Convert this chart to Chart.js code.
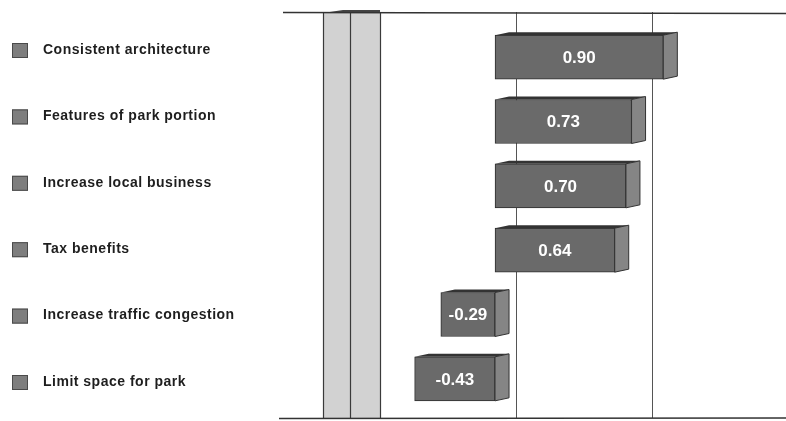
<!DOCTYPE html>
<html>
<head>
<meta charset="utf-8">
<script src="https://cdn.jsdelivr.net/npm/chart.js@4"></script>
<style>
  html, body { margin: 0; padding: 0; background: #ffffff; }
  #wrap { width: 786px; height: 421px; }
</style>
</head>
<body>
<div id="wrap"><canvas id="chart" width="786" height="421"></canvas></div>
<script>
const categories = ["Consistent architecture", "Features of park portion", "Increase local business",
                    "Tax benefits", "Increase traffic congestion", "Limit space for park"];
const values = [0.90, 0.73, 0.70, 0.64, -0.29, -0.43];
const valueLabels = ["0.90", "0.73", "0.70", "0.64", "-0.29", "-0.43"];
const gridTicks = [0.11, 0.84];

// 3d depth of the bars
const depthX = 14;
const depthY = 3;

const backdrop = {
    id: "backdrop",
    beforeDatasetsDraw(chart) {
        const c = chart.ctx;
        const area = chart.chartArea;
        const x = chart.scales.x;
        const top = 12, bottom = 418;
        c.save();
        // gray axis wall
        c.fillStyle = "#d2d2d2";
        c.fillRect(323, top, 57, bottom - top);
        c.strokeStyle = "#3a3a3a";
        c.lineWidth = 1.2;
        [323, 350, 380].forEach(px => {
            c.beginPath();
            c.moveTo(px + 0.5, top);
            c.lineTo(px + 0.5, bottom);
            c.stroke();
        });
        c.fillStyle = "#444";
        c.beginPath();
        c.moveTo(323, top + 1);
        c.lineTo(343, top - 2);
        c.lineTo(380, top - 2);
        c.lineTo(380, top + 1);
        c.closePath();
        c.fill();
        // gridlines
        c.strokeStyle = "#555";
        c.lineWidth = 1;
        gridTicks.forEach(v => {
            const px = Math.round(x.getPixelForValue(v)) + 0.5;
            c.beginPath();
            c.moveTo(px, top);
            c.lineTo(px, bottom);
            c.stroke();
        });
        // frame lines
        c.strokeStyle = "#333";
        c.lineWidth = 1.3;
        c.beginPath();
        c.moveTo(area.left, top + 0.5);
        c.lineTo(area.right, top + 1.5);
        c.stroke();
        c.beginPath();
        c.moveTo(area.left - 4, bottom + 0.5);
        c.lineTo(area.right, bottom);
        c.stroke();
        c.restore();
    }
};

const bar3d = {
    id: "bar3d",
    afterDatasetsDraw(chart) {
        const c = chart.ctx;
        const meta = chart.getDatasetMeta(0);
        c.save();
        meta.data.forEach((el, i) => {
            const p = el.getProps(["x", "y", "base", "height"], true);
            const left = Math.min(p.x, p.base);
            const right = Math.max(p.x, p.base);
            const top = p.y - p.height / 2;
            const bottom = p.y + p.height / 2;
            // side face
            c.fillStyle = "#858585";
            c.strokeStyle = "#333";
            c.lineWidth = 1;
            c.beginPath();
            c.moveTo(right, top);
            c.lineTo(right + depthX, top - depthY);
            c.lineTo(right + depthX, bottom - depthY);
            c.lineTo(right, bottom);
            c.closePath();
            c.fill();
            c.stroke();
            // top face
            c.fillStyle = "#333333";
            c.beginPath();
            c.moveTo(left, top);
            c.lineTo(left + depthX, top - depthY);
            c.lineTo(right + depthX, top - depthY);
            c.lineTo(right, top);
            c.closePath();
            c.fill();
            // value label
            c.fillStyle = "#ffffff";
            c.font = "bold 17px 'Liberation Sans', Arial, sans-serif";
            c.textAlign = "center";
            c.textBaseline = "middle";
            c.fillText(valueLabels[i], (left + right) / 2, p.y + 1);
        });
        c.restore();
    }
};

const sideLegend = {
    id: "sideLegend",
    afterDraw(chart) {
        const c = chart.ctx;
        c.save();
        c.font = "bold 14px 'Liberation Sans', Arial, sans-serif";
        c.letterSpacing = "0.5px";
        c.textBaseline = "middle";
        c.textAlign = "left";
        categories.forEach((name, i) => {
            const y = 50 + i * 66.4;
            c.fillStyle = "#7e7e7e";
            c.fillRect(12, y - 7, 16, 15);
            c.strokeStyle = "#4a4a4a";
            c.lineWidth = 1;
            c.strokeRect(12.5, y - 6.5, 15, 14);
            c.fillStyle = "#1e1e1e";
            c.fillText(name, 43, y);
        });
        c.restore();
    }
};

new Chart(document.getElementById("chart"), {
    type: "bar",
    data: {
        labels: categories,
        datasets: [{
            data: values,
            backgroundColor: "#6a6a6a",
            borderColor: "#2e2e2e",
            borderWidth: 1,
            borderSkipped: false,
            barThickness: 44
        }]
    },
    options: {
        indexAxis: "y",
        responsive: false,
        animation: false,
        layout: {
            padding: { left: 283, right: 0, top: 25, bottom: 10 }
        },
        scales: {
            x: { display: false, min: -1.134, max: 1.556 },
            y: { display: false }
        },
        plugins: {
            legend: { display: false },
            tooltip: { enabled: false }
        }
    },
    plugins: [backdrop, bar3d, sideLegend]
});
</script>
</body>
</html>
